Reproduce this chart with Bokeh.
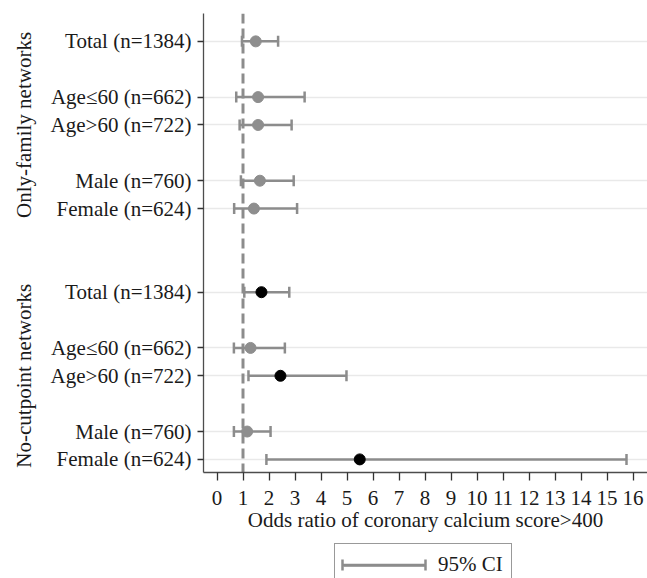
import math
from bokeh.plotting import figure
from bokeh.layouts import column
from bokeh.models import (Range1d, FixedTicker, Span, Legend, LegendItem,
                          ColumnDataSource, LinearAxis)
from bokeh.embed import file_html
from bokeh.resources import INLINE

# ---- data ----
networks = ["Only-family networks", "No-cutpoint networks"]
row_labels = ["Total (n=1384)", "Age\u226460 (n=662)", "Age>60 (n=722)",
              "Male (n=760)", "Female (n=624)"]
row_blocks = [0, 1, 1, 2, 2]          # block membership (Total / Age / Sex)

or_family = [1.49, 1.58, 1.58, 1.65, 1.42]
lo_family = [0.96, 0.74, 0.87, 0.92, 0.66]
hi_family = [2.35, 3.37, 2.87, 2.95, 3.08]

or_nocut = [1.71, 1.29, 2.44, 1.16, 5.49]
lo_nocut = [1.05, 0.65, 1.21, 0.65, 1.90]
hi_nocut = [2.78, 2.61, 4.98, 2.06, 15.75]

x_ticks = list(range(0, 17))
ref_value = 1
x_title = "Odds ratio of coronary calcium score>400"
legend_label = "95% CI"

# ---- build rows (positions from group/block structure) ----
pos, labels, est, lo, hi = [], [], [], [], []
group_spans = []
cur = 0
for gi, (o, l, h) in enumerate([(or_family, lo_family, hi_family),
                                (or_nocut, lo_nocut, hi_nocut)]):
    if gi > 0:
        cur += 2
    start = None
    prev_block = None
    for i in range(len(row_labels)):
        if prev_block is not None and row_blocks[i] != prev_block:
            cur += 1
        cur += 1
        prev_block = row_blocks[i]
        if start is None:
            start = cur
        pos.append(cur)
        labels.append(row_labels[i])
        est.append(o[i]); lo.append(l[i]); hi.append(h[i])
    group_spans.append((start, cur))

colors = ["black" if l_ > ref_value else "#8e8e8e" for l_ in lo]
src = ColumnDataSource(dict(y=pos, est=est, lo=lo, hi=hi, color=colors))

FONT = "Liberation Serif"
FS = "21px"
TXT = "#1a1a1a"
GRAY = "#8c8c8c"
W = 647
H1, H2 = 540, 38
ML, MT, MB, MR = 203, 13, H1 - 472, 0
frame_w = W - ML - MR
px_per_x = 26.0
x0 = -13.5 / px_per_x
x1 = x0 + frame_w / px_per_x
y_bottom = pos[-1] + 0.47
y_top = 0.0

p = figure(width=W, height=H1, output_backend="svg", toolbar_location=None,
           x_range=Range1d(x0, x1), y_range=Range1d(y_bottom, y_top),
           min_border_left=ML, min_border_top=MT, min_border_bottom=MB,
           min_border_right=MR)
p.outline_line_color = None
p.background_fill_color = "white"
p.border_fill_color = "white"

# grid
p.xgrid.visible = False
p.ygrid.ticker = FixedTicker(ticks=pos)
p.ygrid.grid_line_color = "#e9e9e9"
p.ygrid.grid_line_width = 1.5

# reference line
p.add_layout(Span(location=ref_value, dimension="height", line_color=GRAY,
                  line_width=3, line_dash="10 5", level="underlay"))

# error bars
seg = p.segment(x0="lo", y0="y", x1="hi", y1="y", source=src,
                line_color=GRAY, line_width=2.5)
p.scatter(x="lo", y="y", source=src, marker="dash", angle=math.pi / 2,
          size=11, line_color=GRAY, line_width=2.5)
p.scatter(x="hi", y="y", source=src, marker="dash", angle=math.pi / 2,
          size=11, line_color=GRAY, line_width=2.5)
p.scatter(x="est", y="y", source=src, marker="circle", size=11,
          fill_color="color", line_color="color")

# axes
xa = p.xaxis[0]
xa.ticker = FixedTicker(ticks=x_ticks)
xa.axis_label = x_title
for ax in (p.xaxis[0], p.yaxis[0]):
    ax.axis_line_color = "#4d4d4d"
    ax.axis_line_width = 1.3
    ax.major_tick_line_color = "#333333"
    ax.major_tick_line_width = 1.3
    ax.minor_tick_line_color = None
    ax.major_label_text_font = FONT
    ax.major_label_text_font_size = FS
    ax.major_label_text_color = TXT
    ax.axis_label_text_font = FONT
    ax.axis_label_text_font_size = FS
    ax.axis_label_text_font_style = "normal"
    ax.axis_label_text_color = TXT
xa.major_tick_out = 8
xa.major_tick_in = 0
xa.major_label_standoff = 10
xa.axis_label_standoff = 0

ya = p.yaxis[0]
ya.ticker = FixedTicker(ticks=pos)
ya.major_label_overrides = {pp: lab for pp, lab in zip(pos, labels)}
ya.major_tick_out = 6
ya.major_tick_in = 0
ya.major_label_standoff = 6

# group labels as an outer left axis
centers = [(s + e) / 2 for s, e in group_spans]
ga = LinearAxis(ticker=FixedTicker(ticks=centers),
                major_label_overrides={c: n for c, n in zip(centers, networks)},
                major_label_orientation="vertical",
                axis_line_color=None, major_tick_line_color=None,
                minor_tick_line_color=None, major_tick_out=0, major_tick_in=0,
                major_label_standoff=11,
                major_label_text_font=FONT, major_label_text_font_size=FS,
                major_label_text_color=TXT)
p.add_layout(ga, "left")

# legend panel (second small figure; its frame is aligned with the main frame,
# its ranges are in pixels)
q = figure(width=W, height=H2, output_backend="svg", toolbar_location=None,
           x_range=Range1d(ML, W), y_range=Range1d(H2, 0),
           min_border_left=ML, min_border_right=0,
           min_border_top=0, min_border_bottom=0)
q.outline_line_color = None
q.axis.visible = False
q.grid.visible = False
q.border_fill_color = "white"

LEG_X, LEG_TOP, PAD, GW, GH, LH = 334, 3, 8, 83, 20, 45 - 18
cap_y = LEG_TOP + PAD + LH / 2
gx0, gx1 = LEG_X + PAD, LEG_X + PAD + GW
lsrc = ColumnDataSource(dict(x0=[gx0], x1=[gx1], y=[cap_y]))
lseg = q.segment(x0="x0", y0="y", x1="x1", y1="y", source=lsrc,
                 line_color=GRAY, line_width=2.5)
q.scatter(x=[gx0, gx1], y=[cap_y, cap_y], marker="dash",
          angle=math.pi / 2, size=11, line_color=GRAY, line_width=2.5)
leg_h = 2 * PAD + LH
leg = Legend(items=[LegendItem(label=legend_label, renderers=[lseg])],
             location=(LEG_X - ML, H2 - LEG_TOP - leg_h),
             orientation="horizontal",
             glyph_width=GW, glyph_height=GH, padding=PAD, margin=0,
             label_standoff=12, spacing=0,
             label_text_font=FONT, label_text_font_size=FS,
             label_text_color=TXT,
             border_line_color="#333333", border_line_width=1.2,
             background_fill_alpha=0.0, level="underlay")
q.add_layout(leg, "center")

layout = column(p, q, spacing=0)
open("out.html", "w").write(file_html(layout, INLINE))
